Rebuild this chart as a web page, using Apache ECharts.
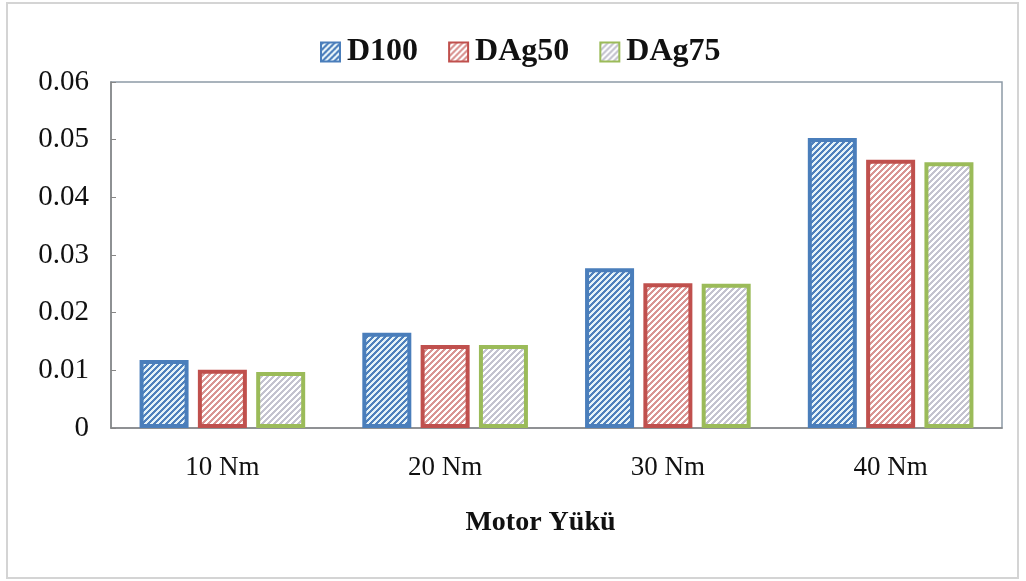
<!DOCTYPE html>
<html>
<head>
<meta charset="utf-8">
<script src="https://cdn.jsdelivr.net/npm/echarts@6/dist/echarts.min.js"></script>
<style>
  html, body { margin: 0; padding: 0; background: #fff; }
  #chart { width: 1026px; height: 581px; }
</style>
</head>
<body>
<div id="chart"></div>
<script>
// data
const categories = ['10 Nm', '20 Nm', '30 Nm', '40 Nm'];
const d100 = [0.0118, 0.0165, 0.0277, 0.0503];
const dag50 = [0.0101, 0.0144, 0.0251, 0.0465];
const dag75 = [0.0097, 0.0144, 0.0250, 0.0461];

const font = 'Liberation Serif, Times New Roman, serif';

// diagonal hatch fill, like the excel "wide upward diagonal" pattern
function hatch(fg, bg) {
  const size = 6;
  const c = document.createElement('canvas');
  c.width = size;
  c.height = size;
  const ctx = c.getContext('2d');
  ctx.fillStyle = bg;
  ctx.fillRect(0, 0, size, size);
  ctx.fillStyle = fg;
  for (let x = 0; x < size; x++) {
    for (let y = 0; y < size; y++) {
      if ((x + y) % size < 3) ctx.fillRect(x, y, 1, 1);
    }
  }
  return { image: c, repeat: 'repeat' };
}

function barSeries(name, data, border, fg, bg) {
  return {
    name: name,
    type: 'bar',
    data: data,
    barWidth: 49,
    barGap: '19%',
    itemStyle: {
      color: hatch(fg, bg),
      borderColor: border,
      borderWidth: 4,
    },
  };
}

const chart = echarts.init(document.getElementById('chart'));

const option = {
  backgroundColor: '#fff',
  animation: false,
  grid: {
    left: 111,
    right: 24,
    top: 82,
    bottom: 153,
    show: true,
    borderColor: '#8d9aa6',
    borderWidth: 1.5,
  },
  legend: {
    top: 31,
    left: 315,
    itemWidth: 19,
    itemHeight: 19,
    itemGap: 30,
    icon: 'rect',
    textStyle: {
      fontFamily: font,
      fontWeight: 'bold',
      fontSize: 32,
      color: '#111',
      padding: [0, 0, 0, 2],
    },
    data: ['D100', 'DAg50', 'DAg75'],
  },
  graphic: [
    {
      type: 'rect',
      shape: { x: 7, y: 3, width: 1011, height: 575 },
      style: { fill: 'none', stroke: '#d4d4d4', lineWidth: 2 },
      silent: true,
    },
  ],
  xAxis: {
    type: 'category',
    data: categories,
    name: 'Motor Yükü',
    nameLocation: 'middle',
    nameGap: 81,
    nameTextStyle: {
      fontFamily: font,
      fontWeight: 'bold',
      fontSize: 28,
      color: '#111',
      padding: [0, 32, 0, 0],
    },
    axisLine: { lineStyle: { color: '#868686', width: 1.5 } },
    axisTick: { show: false },
    axisLabel: {
      fontFamily: font,
      fontSize: 27,
      color: '#111',
      margin: 26,
    },
  },
  yAxis: {
    type: 'value',
    min: 0,
    max: 0.06,
    interval: 0.01,
    axisLine: { show: true, lineStyle: { color: '#868686', width: 1.5 } },
    axisTick: { show: true, inside: true, length: 5, lineStyle: { color: '#868686' } },
    splitLine: { show: false },
    axisLabel: {
      fontFamily: font,
      fontSize: 29,
      color: '#111',
      margin: 22,
    },
  },
  series: [
    barSeries('D100', d100, '#4a7ebb', '#4f81bd', '#e6f3f8'),
    barSeries('DAg50', dag50, '#c0504d', '#d99593', '#ffffff'),
    barSeries('DAg75', dag75, '#9bbb59', '#c4c3cf', '#ffffff'),
  ],
};

chart.setOption(option);
</script>
</body>
</html>
